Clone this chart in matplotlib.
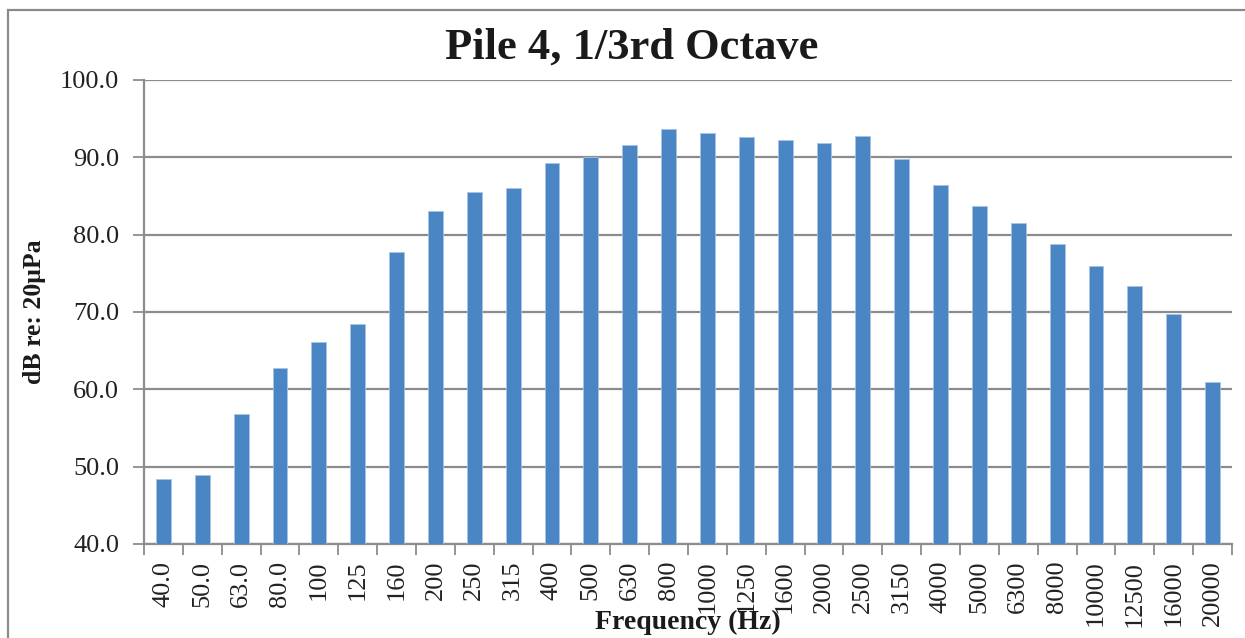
import matplotlib

matplotlib.use("Agg")

import matplotlib.pyplot as plt  # noqa: E402
import numpy as np  # noqa: E402
from matplotlib.patches import Rectangle  # noqa: E402

# 1/3 octave band centre labels and measured levels (dB re 20 uPa)
bands = [
    "40.0", "50.0", "63.0", "80.0", "100", "125", "160", "200", "250",
    "315", "400", "500", "630", "800", "1000", "1250", "1600", "2000",
    "2500", "3150", "4000", "5000", "6300", "8000", "10000", "12500",
    "16000", "20000",
]
levels = [
    48.4, 48.9, 56.8, 62.8, 66.1, 68.5, 77.8, 83.1, 85.5,
    86.0, 89.3, 90.0, 91.6, 93.6, 93.1, 92.6, 92.3, 91.9,
    92.7, 89.8, 86.4, 83.7, 81.5, 78.8, 76.0, 73.4,
    69.7, 61.0,
]
y_ticks = [40, 50, 60, 70, 80, 90, 100]

GRID = "#8c8c8c"
BAR = "#4a86c4"

plt.rcParams["font.family"] = ["Liberation Serif", "DejaVu Serif"]

fig = plt.figure(figsize=(12.45, 6.38), dpi=100)
ax = fig.add_axes([144 / 1245, 1 - 544 / 638, (1232 - 144) / 1245, (544 - 80) / 638])

x = np.arange(len(bands))
ax.bar(x, levels, width=0.38, bottom=0, color=BAR, edgecolor="#a8c3e3",
       linewidth=0.6, zorder=3)

ax.set_xlim(-0.5, len(bands) - 0.5)
ax.set_ylim(40, 100)
ax.set_yticks(y_ticks)
ax.set_yticklabels([f"{v:.1f}" for v in y_ticks], fontsize=19, color="#222222")
ax.grid(axis="y", color=GRID, linewidth=1.6, zorder=1)
ax.tick_params(axis="y", length=8, width=1.3, color=GRID, pad=10)

# category boundaries carry the tick marks, centres carry the labels
ax.set_xticks(np.arange(len(bands) + 1) - 0.5)
ax.set_xticklabels([])
ax.tick_params(axis="x", which="major", length=8, width=1.3, color=GRID)
ax.set_xticks(x, minor=True)
ax.set_xticklabels(bands, minor=True, rotation=90, fontsize=19, color="#222222")
ax.tick_params(axis="x", which="minor", length=0, pad=12)

for side in ("top", "right"):
    ax.spines[side].set_visible(False)
for side in ("left", "bottom"):
    ax.spines[side].set_color(GRID)
    ax.spines[side].set_linewidth(1.6)

fig.text(632 / 1245, 1 - 48 / 638, "Pile 4, 1/3rd Octave", ha="center",
         va="center", fontsize=32, fontweight="bold", color="#1a1a1a")
fig.text(35 / 1245, 1 - 312 / 638, "dB re: 20μPa", rotation=90, ha="center",
         va="center", fontsize=18.5, fontweight="bold", color="#1a1a1a")
fig.text(688 / 1245, 1 - 622 / 638, "Frequency (Hz)", ha="center",
         va="center", fontsize=20, fontweight="bold", color="#1a1a1a")

# chart-area frame, cropped on the right and bottom like the source
fig.patches.append(Rectangle((8 / 1245, -0.05), 1.1, 1 - 10 / 638 + 0.05,
                             transform=fig.transFigure, fill=False,
                             edgecolor="#8a8a8a", linewidth=1.6))

fig.savefig("out.png", dpi=100, facecolor="white")
plt.close(fig)
